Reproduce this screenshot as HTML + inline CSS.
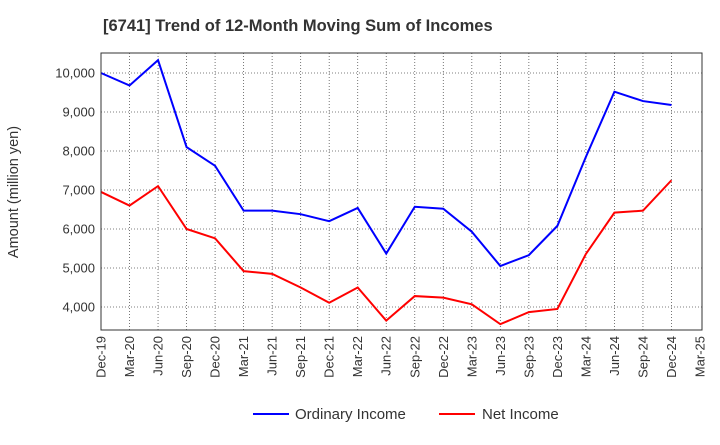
<!DOCTYPE html>
<html><head><meta charset="utf-8">
<style>
body{margin:0;background:#fff;font-family:"Liberation Sans",Arial,sans-serif;}
svg text{font-family:"Liberation Sans",Arial,sans-serif;}
</style></head>
<body>
<svg id="chart" width="720" height="440">
<text x="103" y="31" font-size="16.5" font-weight="bold" fill="#333">[6741]  Trend of 12-Month Moving Sum of Incomes</text>
<g id="grid"></g>
<g id="series"></g>
<g id="axes"></g>
<text transform="translate(18,192) rotate(-90)" text-anchor="middle" font-size="14.5" fill="#333">Amount (million yen)</text>
<g>
<line x1="253" y1="414" x2="289" y2="414" stroke="#0000ff" stroke-width="2"/>
<text x="295" y="419" font-size="15" fill="#333">Ordinary Income</text>
<line x1="439" y1="414" x2="475" y2="414" stroke="#ff0000" stroke-width="2"/>
<text x="482" y="419" font-size="15" fill="#333">Net Income</text>
</g>
</svg>
<script>
const categories=["Dec-19","Mar-20","Jun-20","Sep-20","Dec-20","Mar-21","Jun-21","Sep-21","Dec-21","Mar-22","Jun-22","Sep-22","Dec-22","Mar-23","Jun-23","Sep-23","Dec-23","Mar-24","Jun-24","Sep-24","Dec-24","Mar-25"];
const ordinaryIncome=[10000,9680,10330,8100,7620,6470,6470,6380,6200,6540,5370,6570,6520,5930,5050,5330,6080,7850,9520,9280,9180];
const netIncome=[6950,6600,7100,6000,5760,4920,4850,4500,4110,4500,3650,4280,4240,4070,3560,3870,3950,5360,6420,6470,7250];
const yTicks=[4000,5000,6000,7000,8000,9000,10000];
const yTickLabels=["4,000","5,000","6,000","7,000","8,000","9,000","10,000"];

const L=101,R=702,T=53,B=330;
const NS="http://www.w3.org/2000/svg";
function x(i){return L+(R-L-2)*i/(categories.length-1);}
function y(v){return 307-(v-4000)*39/1000;}
function mk(tag,attrs,parent){const e=document.createElementNS(NS,tag);for(const k in attrs)e.setAttribute(k,attrs[k]);parent.appendChild(e);return e;}
const grid=document.getElementById('grid'),axes=document.getElementById('axes'),series=document.getElementById('series');
yTicks.forEach((v,i)=>{
  const gl=mk('line',{x1:L,x2:R,y1:y(v),y2:y(v),stroke:'#555','stroke-dasharray':'1,2','stroke-width':0.8},grid);
  
  
  const t=mk('text',{x:L-6,y:y(v)+4.5,'text-anchor':'end','font-size':13,fill:'#333'},axes);
  t.textContent=yTickLabels[i];
  
  
});
categories.forEach((c,i)=>{
  if(i>0&&i<categories.length-1){
    const gl=mk('line',{x1:x(i),x2:x(i),y1:T,y2:B,stroke:'#555','stroke-dasharray':'1,2','stroke-width':0.8},grid);
    
    
  }
  const t=mk('text',{transform:`translate(${x(i)+4.5},${B+6}) rotate(-90)`,'text-anchor':'end','font-size':13,fill:'#333'},axes);
  t.textContent=c;
  
  
});
const frame=mk('rect',{x:L,y:T,width:R-L,height:B-T,fill:'none',stroke:'#333','stroke-width':1},axes);


function line(data,color,name){
  const p=mk('polyline',{points:data.map((v,i)=>x(i)+','+y(v)).join(' '),fill:'none',stroke:color,'stroke-width':2},series);
  
  
}
line(ordinaryIncome,'#0000ff','ordinary-income-line');
line(netIncome,'#ff0000','net-income-line');
</script>
</body></html>
